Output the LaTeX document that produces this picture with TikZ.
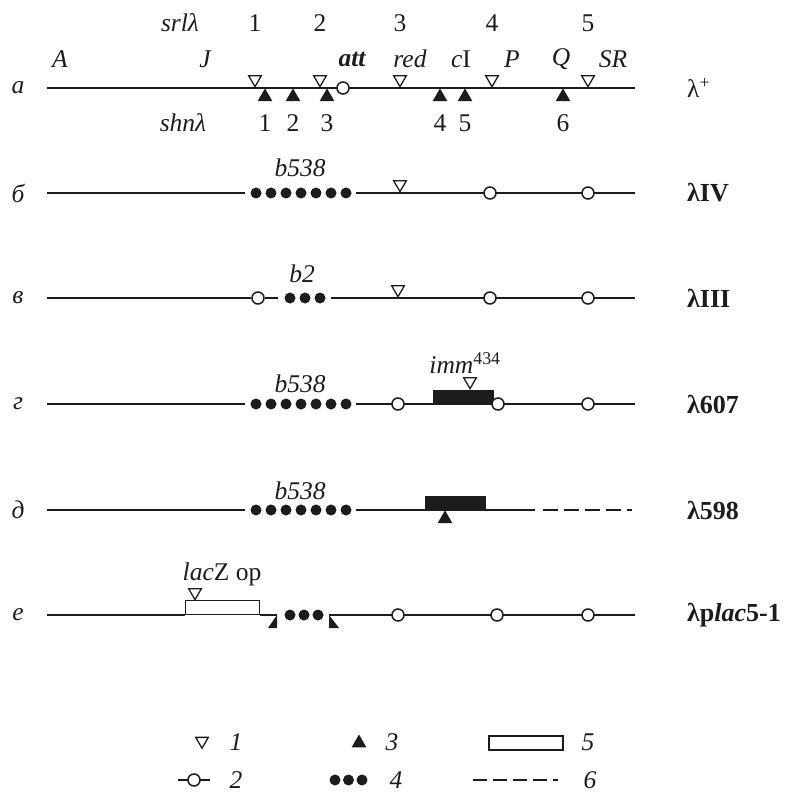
\documentclass[tikz,border=0pt]{standalone}
\usepackage{fontspec}
\setmainfont{Liberation Serif}
\usetikzlibrary{shapes.geometric,positioning}
\definecolor{Ink}{HTML}{1C1C1C}
\tikzset{
  chrom/.style={draw=Ink,line width=1.6pt},
  lostseg/.style={draw=Ink,line width=1.4pt,dash pattern=on 15pt off 6pt},
  opentri/.style={regular polygon,regular polygon sides=3,shape border rotate=180,draw=Ink,fill=white,line width=1.3pt,minimum size=14.5pt,inner sep=0pt,anchor=corner 1},
  solidtri/.style={regular polygon,regular polygon sides=3,fill=Ink,minimum size=17pt,inner sep=0pt,anchor=corner 1},
  ring/.style={circle,draw=Ink,fill=white,line width=1.5pt,minimum size=12pt,inner sep=0pt},
  bead/.style={circle,fill=Ink,minimum size=11pt,inner sep=0pt},
  block/.style={fill=Ink,inner sep=0pt,minimum width=61pt,minimum height=15pt,anchor=south west},
  lbl/.style={font=\fontsize{25.5}{28}\selectfont,text=Ink,inner sep=1pt},
  ilbl/.style={font=\fontsize{25.5}{28}\selectfont\itshape,text=Ink,inner sep=1pt},
  strain/.style={font=\fontsize{26}{30}\selectfont\bfseries,text=Ink,anchor=west,inner sep=0pt}
}
\begin{document}
\begin{tikzpicture}[x=1pt,y=-1pt]
  \useasboundingbox (0,0) rectangle (785,794);
  % row a: wild type
  \node[ilbl] (ra) at (18,88) {а};
  \coordinate (a0) at (47,88);
  \coordinate (a1) at (635,88);
  \draw[chrom] (a0) -- (a1);
  \node[ring] (att) at (343,88) {};
  \node[ilbl] (srlname) at (180,23) {srlλ};
  \node[ilbl] (shnname) at (183,123) {shnλ};
  \foreach \x/\n in {255/1,320/2,400/3,492/4,588/5}{
    \node[opentri] (srl\n) at (\x,88) {};
    \node[lbl] (srlnum\n) at (\x,23) {\n};
  }
  \foreach \x/\n in {265/1,293/2,327/3,440/4,465/5,563/6}{
    \node[solidtri] (shn\n) at (\x,88) {};
    \node[lbl] (shnnum\n) at (\x,123) {\n};
  }
  \node[ilbl] (gA) at (60,59) {A};
  \node[ilbl] (gJ) at (205,59) {J};
  \node[ilbl,font=\fontsize{25.5}{28}\selectfont\bfseries\itshape] (gatt) at (352,59) {att};
  \node[ilbl] (gred) at (410,59) {red};
  \node[lbl] (gcI) at (461,59) {\textit{c}I};
  \node[ilbl] (gP) at (512,59) {P};
  \node[ilbl] (gQ) at (561,59) {Q};
  \node[ilbl] (gSR) at (613,59) {SR};
  \node[lbl,anchor=west,inner sep=0pt] (wt) at (687,88) {λ\textsuperscript{+}};
  % row b: lambda IV
  \node[ilbl] (rb) at (18,193) {б};
  \coordinate (b0) at (47,193);
  \coordinate (b1) at (635,193);
  \foreach \i in {0,...,6} \node[bead] (bb\i) at (256+15*\i,193) {};
  \draw[chrom] (b0) -- ([xshift=-5pt]bb0.west);
  \draw[chrom] ([xshift=4pt]bb6.east) -- (b1);
  \node[opentri] (bt) at (400,193) {};
  \node[ring] (bc1) at (490,193) {};
  \node[ring] (bc2) at (588,193) {};
  \node[ilbl] (bdel) at (300,168) {b538};
  \node[strain] (sb) at (687,193) {λIV};
  % row v: lambda III
  \node[ilbl] (rv) at (18,298) {в};
  \coordinate (v0) at (47,298);
  \coordinate (v1) at (635,298);
  \node[ring] (vc0) at (258,298) {};
  \foreach \i in {0,1,2} \node[bead] (vb\i) at (290+15*\i,298) {};
  \draw[chrom] (v0) -- (vc0);
  \draw[chrom] (vc0) -- ([xshift=-6pt]vb0.west);
  \draw[chrom] ([xshift=5pt]vb2.east) -- (v1);
  \node[opentri] (vt) at (398,298) {};
  \node[ring] (vc1) at (490,298) {};
  \node[ring] (vc2) at (588,298) {};
  \node[ilbl] (vdel) at (302,274) {b2};
  \node[strain] (sv) at (687,298) {λIII};
  % row g: lambda 607
  \node[ilbl] (rg) at (18,404) {г};
  \coordinate (g0) at (47,404);
  \coordinate (g1) at (635,404);
  \foreach \i in {0,...,6} \node[bead] (gb\i) at (256+15*\i,404) {};
  \draw[chrom] (g0) -- ([xshift=-5pt]gb0.west);
  \draw[chrom] ([xshift=4pt]gb6.east) -- (g1);
  \node[block] (gimm) at (433,405) {};
  \node[opentri] (gt) at (470,390) {};
  \node[ring] (gc0) at (398,404) {};
  \node[ring] (gc1) at (498,404) {};
  \node[ring] (gc2) at (588,404) {};
  \node[ilbl] (gdel) at (300,384) {b538};
  \node[lbl] (gimmtxt) at (465,363) {\textit{imm}\textsuperscript{434}};
  \node[strain] (sg) at (687,404) {λ607};
  % row d: lambda 598
  \node[ilbl] (rd) at (18,510) {д};
  \coordinate (d0) at (47,510);
  \coordinate (d1) at (535,510);
  \coordinate (d2) at (543,510);
  \coordinate (d3) at (632,510);
  \foreach \i in {0,...,6} \node[bead] (db\i) at (256+15*\i,510) {};
  \draw[chrom] (d0) -- ([xshift=-5pt]db0.west);
  \draw[chrom] ([xshift=4pt]db6.east) -- (d1);
  \draw[lostseg] (d2) -- (d3);
  \node[block] (dimm) at (425,511) {};
  \node[solidtri] (dt) at (445,510) {};
  \node[ilbl] (ddel) at (300,491) {b538};
  \node[strain] (sd) at (687,510) {λ598};
  % row e: lambda plac5-1
  \node[ilbl] (re) at (18,615) {е};
  \coordinate (e0) at (47,615);
  \coordinate (e1) at (277,615);
  \coordinate (e2) at (329,615);
  \coordinate (e3) at (635,615);
  \node[draw=Ink,line width=1.3pt,minimum width=74pt,minimum height=14pt,inner sep=0pt,anchor=south west] (lacbox) at (185,615) {};
  \draw[chrom] (e0) -- (lacbox.south west);
  \draw[chrom] (lacbox.south east) -- (e1);
  \fill[Ink] (e1) -- ++(0,13) -- ++(-9,0) -- cycle;
  \foreach \i in {0,1,2} \node[bead] (eb\i) at (290+14*\i,615) {};
  \fill[Ink] (e2) -- ++(0,13) -- ++(10,0) -- cycle;
  \draw[chrom] (e2) -- (e3);
  \node[opentri] (et) at (195,601) {};
  \node[ring] (ec0) at (398,615) {};
  \node[ring] (ec1) at (497,615) {};
  \node[ring] (ec2) at (588,615) {};
  \node[lbl] (elac) at (222,574) {\textit{lac}Z op};
  \node[strain] (se) at (687,615) {λp\textit{lac}5-1};
  % legend
  \node[opentri,anchor=center] (k1) at (202,741) {};
  \node[ilbl] (k1t) at (236,742) {1};
  \coordinate (k2a) at (178,780);
  \coordinate (k2b) at (210,780);
  \draw[chrom,line width=1.2pt] (k2a) -- (k2b);
  \node[ring] (k2) at (194,780) {};
  \node[ilbl] (k2t) at (236,780) {2};
  \node[solidtri,anchor=center] (k3) at (359,743) {};
  \node[ilbl] (k3t) at (392,742) {3};
  \foreach \i in {0,1,2} \node[bead] (k4\i) at (335+13.5*\i,780) {};
  \node[ilbl] (k4t) at (396,780) {4};
  \node[draw=Ink,line width=1.3pt,minimum width=74pt,minimum height=14pt,inner sep=0pt] (k5) at (526,743) {};
  \node[ilbl] (k5t) at (588,742) {5};
  \coordinate (k6a) at (473,780);
  \coordinate (k6b) at (558,780);
  \draw[lostseg,line width=1.2pt,dash pattern=on 14pt off 6pt] (k6a) -- (k6b);
  \node[ilbl] (k6t) at (590,780) {6};
\end{tikzpicture}
\end{document}
